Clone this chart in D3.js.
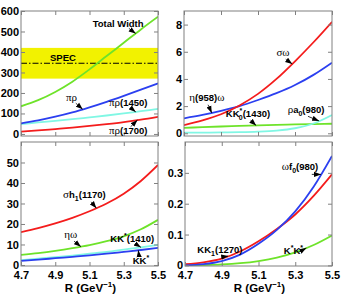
<!DOCTYPE html>
<html>
  <body>
    <script src="https://cdn.jsdelivr.net/npm/d3@7/dist/d3.min.js"></script>
    <style>
      body{ margin: 0; background: #fff;}
      .tick text{ font-family: "Liberation Sans", Arial, sans-serif; font-weight: bold; font-size: 11px; fill: #000;}
      .tick line{ stroke: #808080;}
      .frame{ fill: none; stroke: #808080; stroke-width: 1;}
      .ann{ font-family: "Liberation Sans", Arial, sans-serif; font-weight: bold; font-size: 9.5px;}
      .curve{ fill: none; stroke-width: 1.8;}
    </style>
    <script>
// R values (GeV^-1)
var R = [4.7, 4.8, 4.9, 5.0, 5.1, 5.2, 5.3, 5.4, 5.5]
  , xTicks = [4.7, 4.9, 5.1, 5.3, 5.5]

// top left: widths (MeV)
var totalWidth = [135, 165, 205, 255, 315, 380, 445, 510, 572]
  , piRho = [52, 66, 84, 105, 130, 157, 186, 216, 247]
  , piRho1450 = [48, 56, 64, 72, 81, 90, 100, 111, 122]
  , piRho1700 = [11, 17, 24, 31, 39, 48, 58, 70, 84]
  , specBand = [270, 420]
  , specCentral = 345

// top right
var sigmaOmega = [0.6, 0.95, 1.4, 2.05, 2.9, 4.0, 5.3, 6.7, 8.2]
  , etaPOmega = [1.1, 1.35, 1.65, 2.0, 2.45, 2.95, 3.55, 4.3, 5.2]
  , kk0Star = [0.4, 0.45, 0.5, 0.54, 0.58, 0.62, 0.65, 0.68, 0.7]
  , rhoA0 = [0.05, 0.05, 0.06, 0.08, 0.12, 0.2, 0.37, 0.72, 1.35]

// bottom left
var sigmaH1 = [16, 18, 20.3, 23, 26.2, 30, 34.8, 41, 48.8]
  , etaOmega = [4.9, 5.8, 6.9, 8.2, 9.7, 11.6, 14.0, 17.4, 22]
  , kkStar1410 = [2.4, 3.1, 3.8, 4.6, 5.5, 6.4, 7.5, 8.6, 9.8]
  , kkStar = [2.0, 2.6, 3.3, 4.0, 4.7, 5.5, 6.4, 7.3, 8.3]

// bottom right
var omegaF0 = [0, 0.004, 0.014, 0.035, 0.07, 0.115, 0.175, 0.255, 0.355]
  , kk1 = [0.004, 0.01, 0.022, 0.045, 0.078, 0.118, 0.165, 0.225, 0.295]
  , kStarKStar = [0, 0.001, 0.003, 0.007, 0.014, 0.025, 0.042, 0.066, 0.097]

var red = '#f41c1c', blue = '#2b3ff0', green = '#6ee32a', cyan = '#80f7e4'
  , serif = '"Liberation Serif", "DejaVu Serif", serif'

var panels = [
  { x: [21, 158], y: [136, 11], dom: [-10, 600], ticks: d3.range(0, 601, 100), xlab: false,
    series: [[totalWidth, green], [piRho1450, cyan], [piRho, blue], [piRho1700, red]],
    spec: true,
    ann: [
      { parts: [['Total Width']], at: [5.267, 522], from: [5.33, 515], to: [5.37, totalWidth] },
      { parts: [['SPEC']], at: [4.945, 358] },
      { parts: [['π', 'g'], ['ρ', 'g']], at: [4.995, 160], from: [5.02, 150], to: [5.06, piRho] },
      { parts: [['π', 'g'], ['ρ', 'g'], ['(1450)']], at: [5.326, 137], from: [5.34, 128], to: [5.37, piRho1450] },
      { parts: [['π', 'g'], ['ρ', 'g'], ['(1700)']], at: [5.326, 2], from: [5.34, 35], to: [5.38, piRho1700] }
    ] },
  { x: [184, 332], y: [136, 11], dom: [-0.2, 9], ticks: [0, 2, 4, 6, 8], xlab: false,
    series: [[kk0Star, green], [rhoA0, cyan], [etaPOmega, blue], [sigmaOmega, red]],
    ann: [
      { parts: [['σ', 'g'], ['ω', 'g']], at: [5.235, 5.69], from: [5.25, 5.45], to: [5.285, sigmaOmega] },
      { parts: [['η', 'g'], ['(958)'], ['ω', 'g']], at: [4.824, 2.38], from: [4.83, 2.1], to: [4.85, etaPOmega] },
      { parts: [['KK'], ['*', 'sup'], ['0', 'sub', -3.5], ['(1430)']], at: [5.046, 1.2], from: [5.06, 0.95], to: [5.09, kk0Star] },
      { parts: [['ρ', 'g'], ['a'], ['0', 'sub'], ['(980)']], at: [5.36, 1.49], from: [5.37, 1.25], to: [5.43, rhoA0] }
    ] },
  { x: [21, 158], y: [266, 142], dom: [-0.5, 60], ticks: d3.range(0, 51, 10), xlab: true,
    series: [[sigmaH1, red], [etaOmega, green], [kkStar1410, cyan], [kkStar, blue]],
    ann: [
      { parts: [['σ', 'g'], ['h'], ['1', 'sub'], ['(1170)']], at: [5.07, 32.5], from: [5.11, 30.8], to: [5.14, sigmaH1] },
      { parts: [['η', 'g'], ['ω', 'g']], at: [4.99, 13.3], from: [5.01, 11.6], to: [5.05, etaOmega] },
      { parts: [['KK'], ['*', 'sup'], ['(1410)']], at: [5.35, 11.2], from: [5.37, 10.2], to: [5.4, kkStar1410] },
      { parts: [['KK'], ['*', 'sup']], at: [5.4, 0.6], from: [5.39, 4], to: [5.385, kkStar] }
    ] },
  { x: [185, 332], y: [266, 142], dom: [-0.002, 0.4], ticks: [0, 0.1, 0.2, 0.3], xlab: true,
    series: [[kStarKStar, green], [kk1, red], [omegaF0, blue]],
    ann: [
      { parts: [['ω', 'g'], ['f'], ['0', 'sub'], ['(980)']], at: [5.326, 0.31], from: [5.39, 0.295], to: [5.44, omegaF0] },
      { parts: [['KK'], ['1', 'sub'], ['(1270)']], at: [4.89, 0.04], from: [4.91, 0.028], to: [4.935, kk1] },
      { parts: [['K'], ['*', 'sup'], ['K'], ['*', 'sup']], at: [5.29, 0.036], from: [5.32, 0.043], to: [5.36, kStarKStar] }
    ] }
]

var svg = d3.select('body').append('svg').attr('width', 343).attr('height', 295)

svg.append('defs').append('marker')
  .attr('id', 'head').attr('viewBox', '0 -3 7 6')
  .attr('refX', 7).attr('refY', 0)
  .attr('markerWidth', 7).attr('markerHeight', 6)
  .attr('markerUnits', 'userSpaceOnUse').attr('orient', 'auto')
  .append('path').attr('d', 'M0,-2.6L7,0L0,2.6Z').attr('fill', '#000')

function valueAt(arr, x){
  var i = Math.min(R.length - 2, Math.max(0, Math.floor((x - R[0]) / 0.1)))
  var t = (x - R[i]) / (R[i + 1] - R[i])
  return arr[i] + t * (arr[i + 1] - arr[i])
}

function addLabel(g, parts, x, y){
  var t = g.append('text').attr('class', 'ann').attr('x', x).attr('y', y)
    .attr('text-anchor', 'middle')
  var cur = 0
  parts.forEach(function(p){
    var off = p[1] === 'sup' ? -4 : p[1] === 'sub' ? 3 : 0
    var ts = t.append('tspan').text(p[0]).attr('dy', off - cur)
    if(p[2]) ts.attr('dx', p[2])
    if(p[1] === 'g') ts.attr('font-family', serif).attr('font-weight', 'normal').attr('font-size', 11)
    if(p[1] === 'sup' || p[1] === 'sub') ts.attr('font-size', 7)
    cur = off
  })
}

panels.forEach(function(p, k){
  var x = d3.scaleLinear().domain([4.7, 5.5]).range(p.x)
    , y = d3.scaleLinear().domain(p.dom).range(p.y)
    , g = svg.append('g')

  g.append('clipPath').attr('id', 'clip' + k).append('rect')
    .attr('x', p.x[0]).attr('y', p.y[1]).attr('width', p.x[1] - p.x[0]).attr('height', p.y[0] - p.y[1])

  if(p.spec){
    g.append('rect').attr('x', p.x[0]).attr('width', p.x[1] - p.x[0])
      .attr('y', y(specBand[1])).attr('height', y(specBand[0]) - y(specBand[1]))
      .attr('fill', '#f2f200')
    g.append('line').attr('x1', p.x[0]).attr('x2', p.x[1])
      .attr('y1', y(specCentral)).attr('y2', y(specCentral))
      .attr('stroke', '#000').attr('stroke-width', 1).attr('stroke-dasharray', '6,2,1.5,2')
  }

  var line = d3.line().x(function(d, i){ return x(R[i]) }).y(function(d){ return y(d) })
    .curve(d3.curveMonotoneX)
  p.series.forEach(function(s){
    g.append('path').attr('class', 'curve').attr('clip-path', 'url(#clip' + k + ')')
      .attr('d', line(s[0])).attr('stroke', s[1])
  })

  g.append('g').attr('transform', 'translate(' + p.x[0] + ',0)')
    .call(d3.axisLeft(y).tickValues(p.ticks).tickSize(-4).tickPadding(2).tickFormat(d3.format('')))
  g.append('g').attr('transform', 'translate(' + p.x[1] + ',0)')
    .call(d3.axisRight(y).tickValues(p.ticks).tickSize(-4).tickFormat(''))
  g.append('g').attr('transform', 'translate(0,' + p.y[0] + ')')
    .call(d3.axisBottom(x).tickValues(xTicks).tickSize(-4).tickPadding(5)
      .tickFormat(p.xlab ? d3.format('.1f') : ''))
  g.append('g').attr('transform', 'translate(0,' + p.y[1] + ')')
    .call(d3.axisTop(x).tickValues(xTicks).tickSize(-4).tickFormat(''))
  g.selectAll('.domain').remove()

  g.append('rect').attr('class', 'frame')
    .attr('x', p.x[0]).attr('y', p.y[1]).attr('width', p.x[1] - p.x[0]).attr('height', p.y[0] - p.y[1])

  if(p.xlab){
    var lab = g.append('text').attr('class', 'ann').style('font-size', '11.5px')
      .attr('x', (p.x[0] + p.x[1]) / 2 + 1).attr('y', 292).attr('text-anchor', 'middle')
    lab.append('tspan').text('R (GeV')
    lab.append('tspan').text('−1').attr('dy', -5).style('font-size', '8px')
    lab.append('tspan').text(')').attr('dy', 5)
  }

  p.ann.forEach(function(a){
    addLabel(g, a.parts, x(a.at[0]), y(a.at[1]))
    if(a.from){
      g.append('line').attr('x1', x(a.from[0])).attr('y1', y(a.from[1]))
        .attr('x2', x(a.to[0])).attr('y2', y(valueAt(a.to[1], a.to[0])))
        .attr('stroke', '#000').attr('stroke-width', 0.8).attr('marker-end', 'url(#head)')
    }
  })
})
    </script>
  </body>
</html>
